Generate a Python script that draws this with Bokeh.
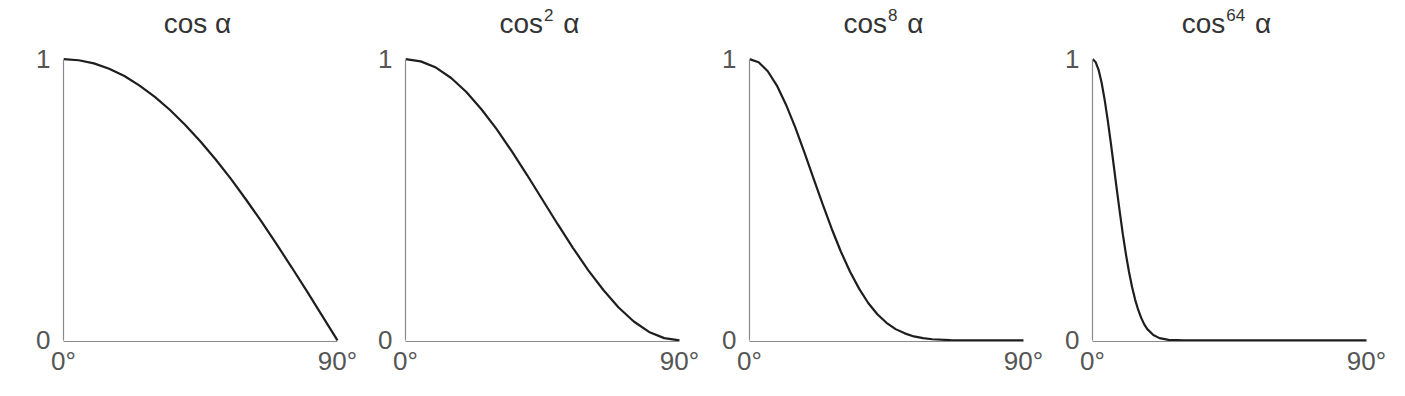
from bokeh.plotting import figure
from bokeh.layouts import row
from bokeh.models import Range1d, FixedTicker
from bokeh.core.properties import value
from bokeh.embed import file_html
from bokeh.resources import INLINE

# ---- data ----
title_base = ["cos", "cos", "cos", "cos"]
title_power = ["", "2", "8", "64"]
title_angle = ["α", "α", "α", "α"]
x_tick_values = [0, 90]
x_tick_labels = ["0°", "90°"]
y_tick_values = [0, 1]
y_tick_labels = ["0", "1"]

deg_cos1 = [0, 5, 10, 15, 20, 25, 30, 35, 40, 45, 50, 55, 60, 65, 70, 75, 80, 85, 90]
val_cos1 = [1.0, 0.996, 0.985, 0.966, 0.940, 0.906, 0.866, 0.819, 0.766, 0.707,
            0.643, 0.574, 0.500, 0.423, 0.342, 0.259, 0.174, 0.087, 0.0]

deg_cos2 = [0, 5, 10, 15, 20, 25, 30, 35, 40, 45, 50, 55, 60, 65, 70, 75, 80, 85, 90]
val_cos2 = [1.0, 0.992, 0.970, 0.933, 0.883, 0.821, 0.750, 0.671, 0.587, 0.500,
            0.413, 0.329, 0.250, 0.179, 0.117, 0.067, 0.030, 0.008, 0.0]

deg_cos8 = [0, 3, 6, 9, 12, 15, 18, 21, 24, 27, 30, 33, 36, 39, 42, 45, 48, 51, 54,
            57, 60, 66, 72, 80, 90]
val_cos8 = [1.0, 0.989, 0.957, 0.906, 0.838, 0.758, 0.669, 0.577, 0.485, 0.397,
            0.316, 0.245, 0.184, 0.133, 0.093, 0.0625, 0.040, 0.025, 0.014,
            0.008, 0.004, 0.001, 0.0, 0.0, 0.0]

deg_cos64 = [0, 1, 2, 3, 4, 5, 6, 7, 8, 9, 10, 11, 12, 13, 14, 15, 16, 17, 18,
             20, 22, 25, 30, 40, 90]
val_cos64 = [1.0, 0.990, 0.962, 0.916, 0.855, 0.783, 0.704, 0.620, 0.535, 0.453,
             0.375, 0.305, 0.243, 0.190, 0.145, 0.109, 0.080, 0.057, 0.040,
             0.019, 0.008, 0.002, 0.0, 0.0, 0.0]

series_x = [deg_cos1, deg_cos2, deg_cos8, deg_cos64]
series_y = [val_cos1, val_cos2, val_cos8, val_cos64]

# ---- styling ----
FONT = "Liberation Sans"
MAIN_PX = 28
SUP_PX = 17
border_left = [63, 44, 46, 45]
border_right = 21
frame_w = 277
H = 385
title_y = 1.125       # baseline of the panel titles, in y-units above the axis top
title_cx = 44         # titles centred over the axis

# approximate advance widths (em) of Liberation Sans
ADV = {"c": 0.5, "o": 0.556, "s": 0.5, " ": 0.278, "α": 0.579}
DIGIT = 0.556

figs = []
for i in range(4):
    w = border_left[i] + frame_w + border_right
    p = figure(width=w, height=H,
               x_range=Range1d(0, 91), y_range=Range1d(-0.004, 1.18),
               output_backend="svg", toolbar_location=None,
               min_border_left=border_left[i], min_border_right=border_right,
               min_border_top=8, min_border_bottom=44)
    p.outline_line_color = None
    p.grid.visible = False
    p.background_fill_color = "white"
    p.border_fill_color = "white"

    for ax in (p.xaxis[0], p.yaxis[0]):
        ax.axis_line_color = "#8a8a8a"
        ax.axis_line_width = 1.2
        ax.major_tick_line_color = None
        ax.minor_tick_line_color = None
        ax.major_tick_out = 0
        ax.major_tick_in = 0
        ax.minor_tick_out = 0
        ax.minor_tick_in = 0
        ax.major_label_text_font = FONT
        ax.major_label_text_font_size = "26px"
        ax.major_label_text_color = "#555555"

    p.xaxis.ticker = FixedTicker(ticks=x_tick_values)
    p.xaxis.bounds = (x_tick_values[0], x_tick_values[-1])
    p.xaxis.major_label_overrides = {v: s for v, s in zip(x_tick_values, x_tick_labels)}
    p.xaxis.major_label_standoff = 4

    p.yaxis.ticker = FixedTicker(ticks=y_tick_values)
    p.yaxis.bounds = (y_tick_values[0], y_tick_values[-1])
    p.yaxis.major_label_overrides = {v: s for v, s in zip(y_tick_values, y_tick_labels)}
    p.yaxis.major_label_standoff = 13

    p.line(series_x[i], series_y[i], line_color="#1e1e1e", line_width=2.2)

    # title composed of base text, raised power and angle symbol
    base, power, ang = title_base[i], title_power[i], title_angle[i]
    w_base = sum(ADV[c] for c in base) * MAIN_PX
    w_pow = (len(power) * DIGIT * SUP_PX + 1) if power else 0
    w_gap = ADV[" "] * MAIN_PX + (2 if power else 0)
    w_ang = ADV[ang] * MAIN_PX
    start = -(w_base + w_pow + w_gap + w_ang) / 2
    common = dict(text_font=value(FONT), text_color="#333333",
                  text_align="left", text_baseline="alphabetic")
    p.text(x=[title_cx], y=[title_y], text=[base], x_offset=start,
           text_font_size=f"{MAIN_PX}px", **common)
    if power:
        p.text(x=[title_cx], y=[title_y], text=[power], x_offset=start + w_base + 1,
               y_offset=-9, text_font_size=f"{SUP_PX}px", **common)
    p.text(x=[title_cx], y=[title_y], text=[ang], x_offset=start + w_base + w_pow + w_gap,
           text_font_size=f"{MAIN_PX}px", **common)
    figs.append(p)

layout = row(*figs)
open("out.html", "w").write(file_html(layout, INLINE))
